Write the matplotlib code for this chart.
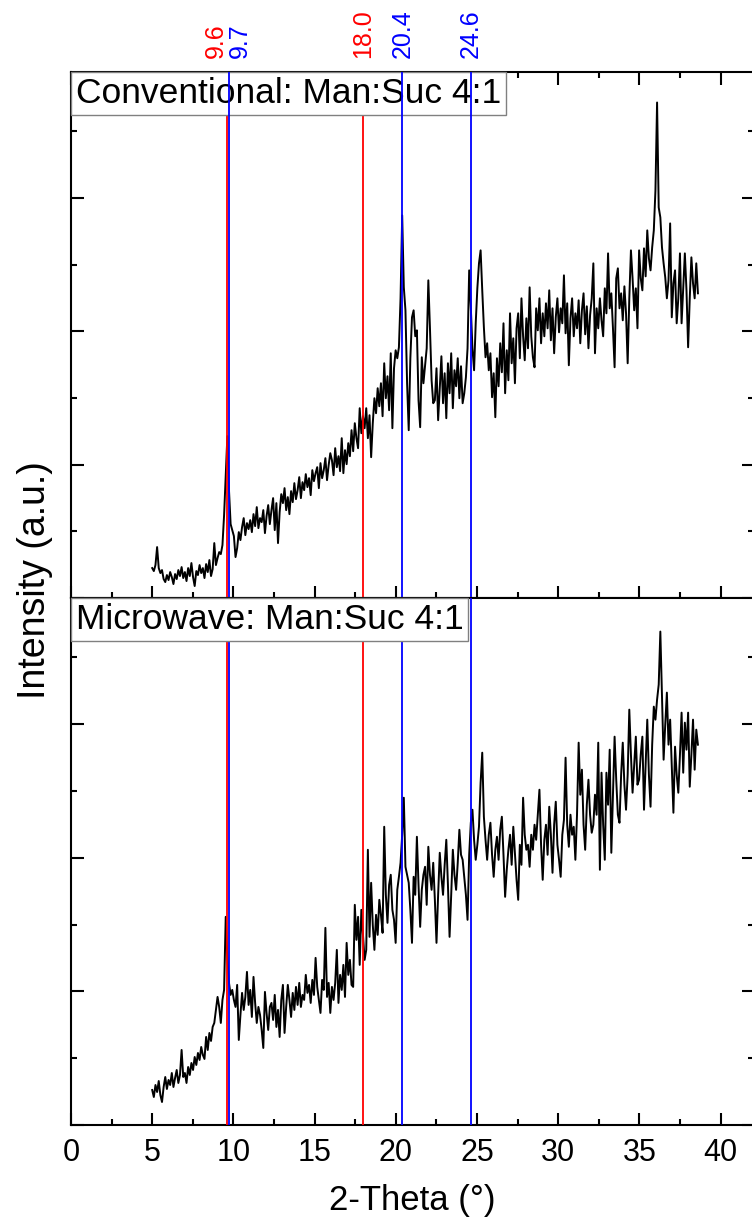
import numpy as np
import matplotlib
matplotlib.use("Agg")
import matplotlib.pyplot as plt
from matplotlib.ticker import MultipleLocator, NullFormatter

plt.rcParams['font.family'] = ['Liberation Sans', 'DejaVu Sans']

# scan range (deg 2-theta), both patterns share the same step grid
scan_start = 5.0
scan_end = 38.6

# conventional sample, Man:Suc 4:1 (a.u.)
conventional = [
    30, 27, 33, 51, 30, 25, 28, 19, 16, 23,
    18, 26, 21, 14, 24, 19, 28, 22, 31, 20,
    26, 17, 30, 22, 35, 21, 12, 27, 23, 33,
    25, 30, 20, 34, 26, 38, 22, 29, 55, 33,
    40, 46, 44, 53, 83, 123, 162, 108, 74, 68,
    62, 41, 50, 66, 58, 71, 80, 63, 75, 69,
    78, 66, 84, 72, 91, 70, 80, 76, 88, 65,
    82, 93, 74, 88, 100, 68, 95, 55, 86, 104,
    95, 110, 88, 101, 84, 107, 96, 115, 99, 108,
    121, 100, 116, 108, 124, 111, 120, 103, 128, 117,
    125, 131, 110, 135, 120, 128, 140, 118, 133, 145,
    138, 123, 150, 131, 142, 127, 160, 125, 148, 134,
    155, 142, 168, 147, 175, 160, 150, 190, 165, 182,
    170, 190, 160, 183, 141, 175, 200, 185, 210, 192,
    215, 182, 235, 200, 222, 188, 245, 170, 230, 248,
    240, 251, 300, 383, 311, 288, 215, 168, 240, 281,
    288, 262, 268, 198, 171, 241, 215, 232, 250, 318,
    270, 218, 195, 198, 230, 178, 210, 242, 195, 225,
    180, 235, 205, 245, 190, 228, 212, 240, 200, 232,
    195, 205, 221, 250, 328, 291, 250, 228, 275, 310,
    335, 348, 308, 271, 241, 255, 228, 245, 201, 225,
    181, 240, 212, 255, 226, 275, 205, 248, 218, 285,
    235, 260, 215, 270, 285, 240, 300, 262, 238, 280,
    250, 311, 262, 241, 231, 290, 268, 300, 255, 285,
    262, 295, 270, 308, 258, 290, 245, 281, 300, 266,
    290, 275, 323, 265, 295, 233, 280, 300, 262, 285,
    270, 298, 255, 288, 305, 264, 292, 250, 283, 300,
    335, 245, 290, 270, 300, 278, 262, 310, 285, 345,
    290, 305, 270, 231, 320, 330, 290, 305, 278, 312,
    285, 235, 300, 348, 320, 288, 310, 270, 348, 320,
    308, 350, 322, 368, 340, 328, 351, 368, 408, 496,
    391, 381, 351, 335, 321, 300, 318, 375, 281, 315,
    328, 275, 300, 345, 275, 310, 345, 308, 251, 300,
    341, 315, 300, 335, 305,
]

# microwave sample, Man:Suc 4:1 (a.u.)
microwave = [
    35, 28, 40, 33, 44, 30, 23, 38, 48, 36,
    45, 40, 52, 38, 47, 55, 42, 50, 75, 48,
    52, 42, 58, 50, 62, 55, 68, 60, 72, 65,
    78, 70, 66, 88, 75, 92, 84, 98, 102, 115,
    128, 118, 102, 125, 135, 208, 168, 142, 130, 135,
    125, 118, 140, 85, 110, 132, 115, 128, 153, 120,
    135, 108, 148, 122, 102, 118, 110, 95, 77, 133,
    112, 95, 118, 122, 105, 130, 98, 115, 88, 125,
    140, 92, 118, 140, 125, 108, 132, 115, 138, 120,
    142, 118, 130, 125, 150, 132, 140, 122, 145, 130,
    167, 138, 125, 112, 145, 135, 197, 128, 142, 112,
    138, 125, 142, 175, 122, 150, 135, 160, 128, 182,
    150, 165, 140, 138, 220, 185, 208, 160, 215, 190,
    165, 175, 275, 188, 242, 200, 175, 210, 190, 225,
    210, 192, 298, 230, 202, 240, 250, 215, 205, 182,
    235, 248, 262, 290, 327, 258, 250, 242, 215, 182,
    248, 230, 288, 240, 198, 235, 250, 258, 220, 278,
    250, 235, 262, 225, 182, 230, 272, 248, 230, 260,
    285, 240, 188, 230, 275, 250, 235, 262, 295, 270,
    265, 248, 230, 205, 270, 302, 315, 285, 265, 280,
    298, 342, 372, 308, 285, 265, 290, 302, 270, 248,
    275, 288, 265, 295, 308, 270, 228, 255, 275, 290,
    260, 298, 272, 245, 225, 280, 260, 327, 290, 275,
    280, 258, 290, 275, 300, 285, 310, 335, 280, 245,
    285, 300, 270, 318, 290, 252, 300, 323, 280, 265,
    248, 290, 305, 367, 300, 278, 310, 290, 298, 265,
    310, 382, 330, 355, 300, 275, 320, 345, 310, 292,
    300, 330, 310, 382, 255, 352, 300, 265, 352, 320,
    375, 272, 330, 388, 345, 310, 302, 350, 382, 340,
    315, 350, 415, 370, 332, 360, 388, 340, 345, 370,
    388, 315, 360, 405, 350, 318, 380, 418, 405, 425,
    440, 493, 428, 365, 400, 432, 380, 405, 360, 312,
    378, 350, 332, 370, 412, 352, 402, 375, 412, 338,
    370, 405, 355, 395, 380,
]

# reference reflections (red = mannitol, blue = sucrose)
red_lines = [9.6, 18.0]
blue_lines = [9.7, 20.4, 24.6]

panel_titles = ["Conventional: Man:Suc 4:1", "Microwave: Man:Suc 4:1"]

two_theta = np.linspace(scan_start, scan_end, len(conventional))

fig = plt.figure(figsize=(7.52, 12.27), dpi=100)
ax_top = fig.add_axes([0.0944, 0.5126, 0.9082, 0.4287])
ax_bot = fig.add_axes([0.0944, 0.0831, 0.9082, 0.4295])

for ax, y, title, top in [(ax_top, conventional, panel_titles[0], True),
                          (ax_bot, microwave, panel_titles[1], False)]:
    ax.plot(two_theta, y, color='black', lw=1.4, zorder=2)
    ax.set_xlim(0, 42.05)
    ax.set_ylim(0, 526.5)

    # red lines sit behind the label box in the top panel, blue in front
    for v in red_lines:
        ax.axvline(v, color='#ff0000', lw=1.3, zorder=3)
    for v in blue_lines:
        ax.axvline(v, color='#0000ff', lw=1.3, zorder=6 if top else 3)

    ax.annotate(title, xy=(0, 1), xycoords='axes fraction',
                xytext=(5, -5), textcoords='offset pixels',
                ha='left', va='top', fontsize=25.5, zorder=5,
                bbox=dict(boxstyle='square,pad=0.13', fc='white',
                          ec='#808080', lw=1.0))

    ax.xaxis.set_major_locator(MultipleLocator(5))
    ax.xaxis.set_minor_locator(MultipleLocator(2.5))
    ax.yaxis.set_major_locator(MultipleLocator(133.5))
    ax.yaxis.set_minor_locator(MultipleLocator(66.75))
    ax.yaxis.set_major_formatter(NullFormatter())
    ax.tick_params(which='both', direction='in', left=True, right=True,
                   top=top, bottom=True, width=1.5)
    ax.tick_params(which='major', length=9)
    ax.tick_params(which='minor', length=4.5)
    for s in ax.spines.values():
        s.set_linewidth(1.5)

ax_top.xaxis.set_major_formatter(NullFormatter())
ax_bot.tick_params(axis='x', labelsize=22, pad=9)

# peak position labels above the top panel
label_shift = {9.6: -11, 9.7: 11}
for vals, col in [(red_lines, '#ff0000'), (blue_lines, '#0000ff')]:
    for v in vals:
        ax_top.annotate(f"{v:.1f}", xy=(v, 1), xycoords=('data', 'axes fraction'),
                        xytext=(label_shift.get(v, 0), 14), textcoords='offset pixels',
                        rotation=90, ha='center', va='bottom', fontsize=18,
                        color=col, annotation_clip=False)

fig.text(0.047, 0.527, 'Intensity (a.u.)', rotation=90, ha='center', va='center',
         fontsize=27)
fig.text(0.548, 0.022, '2-Theta (°)', ha='center', va='center', fontsize=25)

fig.savefig('out.png', dpi=100)
